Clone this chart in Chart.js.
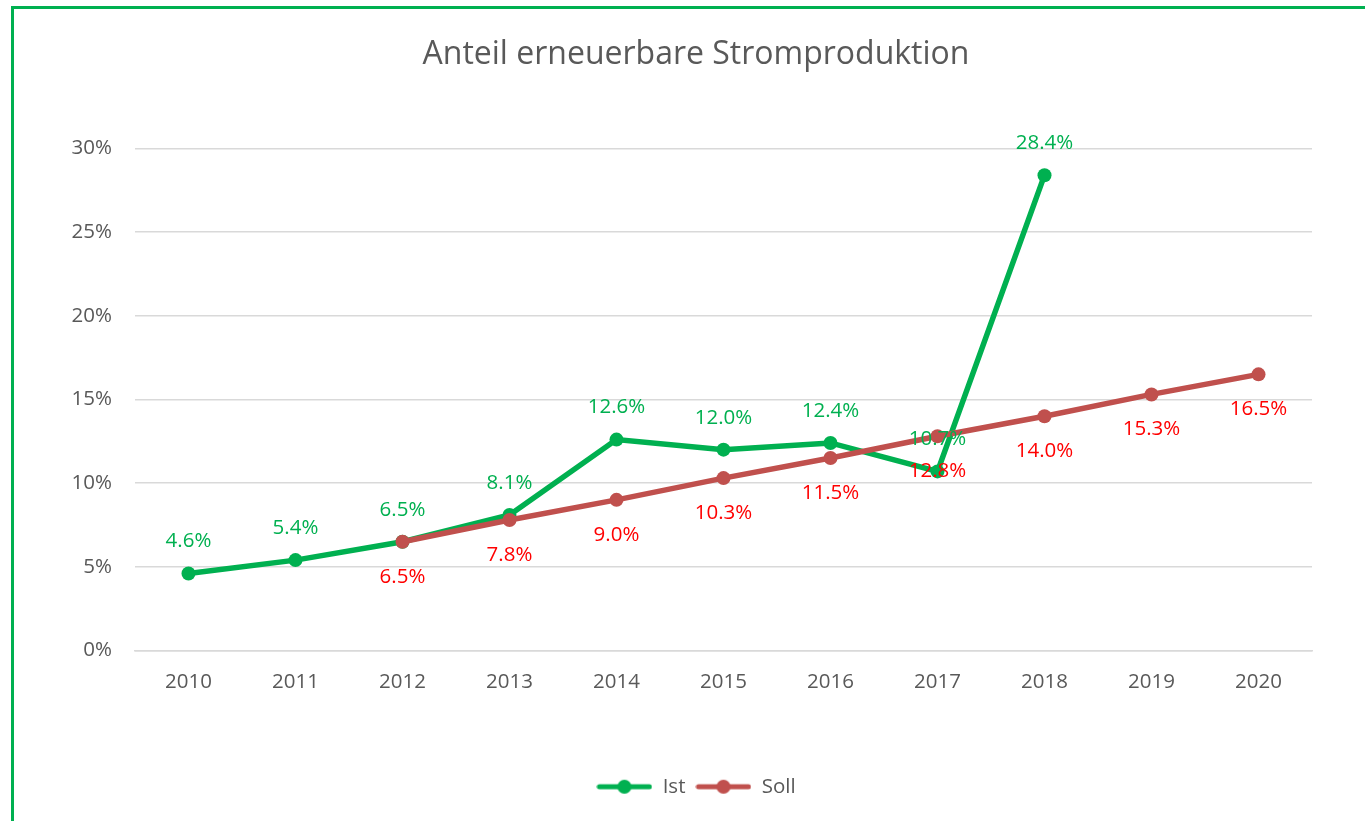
<!DOCTYPE html>
<html>
<head>
<meta charset="utf-8">
<script src="https://cdn.jsdelivr.net/npm/chart.js@4.4.0/dist/chart.umd.min.js"></script>
<style>
    body { margin: 0; background: #fff; overflow: hidden; }
    #wrap { position: relative; width: 1365px; height: 821px; }
    #frame {
        position: absolute; left: 11px; top: 6px;
        width: 1400px; height: 900px;
        border: 3px solid #00B050; box-sizing: border-box;
        pointer-events: none;
    }
</style>
</head>
<body>
<div id="wrap">
    <canvas id="chart"></canvas>
    <div id="frame"></div>
</div>
<script>
// Data
const years = ['2010', '2011', '2012', '2013', '2014', '2015', '2016', '2017', '2018', '2019', '2020'];
const istValues = [4.6, 5.4, 6.5, 8.1, 12.6, 12.0, 12.4, 10.7, 28.4, null, null];
const sollValues = [null, null, 6.5, 7.8, 9.0, 10.3, 11.5, 12.8, 14.0, 15.3, 16.5];
const yTicks = [0, 5, 10, 15, 20, 25, 30];

const FONT = '"Open Sans"';
const GREEN = '#00B050';
const BROWN = '#C0504D';

// Small line + dot icon for the legend
function legendIcon(color) {
    const c = document.createElement('canvas');
    c.width = 56;
    c.height = 16;
    const g = c.getContext('2d');
    g.strokeStyle = color;
    g.lineWidth = 5;
    g.lineCap = 'round';
    g.beginPath();
    g.moveTo(3, 8);
    g.lineTo(53, 8);
    g.stroke();
    g.fillStyle = color;
    g.beginPath();
    g.arc(28, 8, 7, 0, Math.PI * 2);
    g.fill();
    return c;
}

// Value labels above / below each point
const valueLabels = {
    id: 'valueLabels',
    afterDatasetsDraw(chart) {
        const ctx = chart.ctx;
        chart.data.datasets.forEach((ds, i) => {
            const meta = chart.getDatasetMeta(i);
            meta.data.forEach((pt, j) => {
                const v = ds.data[j];
                if (v === null || v === undefined) return;
                ctx.save();
                ctx.font = '20.5px ' + FONT;
                ctx.fillStyle = ds.labelColor;
                ctx.textAlign = 'center';
                ctx.textBaseline = 'middle';
                ctx.fillText(v.toFixed(1) + '%', pt.x, pt.y + ds.labelOffset);
                ctx.restore();
            });
        });
    }
};

// The y axis box is kept narrow so title and legend centre like the original;
// widen it after layout so its tick labels are not clipped.
const widenYAxis = {
    id: 'widenYAxis',
    afterLayout(chart) {
        chart.scales.y.left = 0;
    }
};

const icons = [legendIcon(GREEN), legendIcon(BROWN)];

new Chart(document.getElementById('chart'), {
    type: 'line',
    data: {
        labels: years,
        datasets: [
            {
                label: 'Ist',
                data: istValues,
                borderColor: GREEN,
                backgroundColor: GREEN,
                borderWidth: 5.5,
                pointRadius: 7,
                pointHoverRadius: 7,
                pointBorderWidth: 0,
                labelColor: GREEN,
                labelOffset: -32,
                order: 1
            },
            {
                label: 'Soll',
                data: sollValues,
                borderColor: BROWN,
                backgroundColor: BROWN,
                borderWidth: 5.5,
                pointRadius: 7,
                pointHoverRadius: 7,
                pointBorderWidth: 0,
                labelColor: '#FF0000',
                labelOffset: 35,
                order: 0
            }
        ]
    },
    options: {
        responsive: true,
        maintainAspectRatio: false,
        animation: false,
        layout: {
            padding: { left: 80, right: 53, top: 0, bottom: 14 }
        },
        plugins: {
            title: {
                display: true,
                text: 'Anteil erneuerbare Stromproduktion',
                color: '#595959',
                font: { family: FONT, size: 32, weight: 'normal' },
                padding: { top: 36, bottom: 74 }
            },
            legend: {
                position: 'bottom',
                labels: {
                    usePointStyle: true,
                    pointStyleWidth: 56,
                    color: '#595959',
                    font: { family: FONT, size: 20.5 },
                    padding: 10,
                    sort: (a, b) => a.datasetIndex - b.datasetIndex,
                    generateLabels(chart) {
                        const items = Chart.defaults.plugins.legend.labels.generateLabels(chart);
                        items.forEach(it => { it.pointStyle = icons[it.datasetIndex]; });
                        return items;
                    }
                }
            },
            tooltip: { enabled: false }
        },
        scales: {
            x: {
                offset: true,
                grid: { display: false, drawTicks: false },
                border: { display: true, color: '#d9d9d9', width: 1.5 },
                ticks: {
                    color: '#595959',
                    font: { family: FONT, size: 20.5 },
                    padding: 19,
                    maxRotation: 0
                },
                afterFit: s => { s.height = 116; }
            },
            y: {
                min: 0,
                max: 30,
                afterBuildTicks: s => { s.ticks = yTicks.map(v => ({ value: v })); },
                grid: { color: '#d9d9d9', lineWidth: 1.5, drawTicks: false },
                border: { display: false },
                ticks: {
                    color: '#595959',
                    font: { family: FONT, size: 20.5 },
                    padding: 23,
                    callback: v => v + '%'
                },
                afterFit: s => { s.width = 55; }
            }
        }
    },
    plugins: [valueLabels, widenYAxis]
});
</script>
</body>
</html>
